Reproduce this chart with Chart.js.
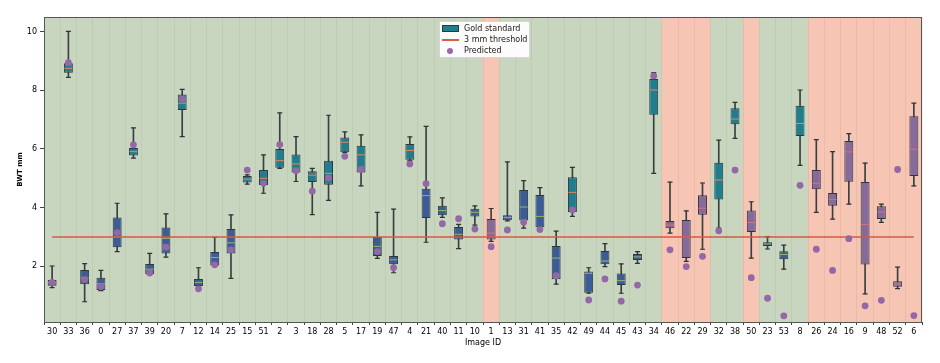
<!DOCTYPE html>
<html>
<head>
<meta charset="utf-8">
<script src="https://cdn.jsdelivr.net/npm/chart.js@4.4.1/dist/chart.umd.min.js"></script>
<style>
    html, body { margin: 0; padding: 0; background: #fff; }
    #wrap { position: relative; width: 940px; height: 363px; }
    .legend {
        position: absolute; left: 439px; top: 21px; width: 89px; height: 35px;
        background: rgba(255, 255, 255, 0.93); border: 1px solid #d6d6d6; border-radius: 2px;
        font: 8px "DejaVu Sans", sans-serif; color: #1a1a1a;
    }
    .legend .row { position: absolute; left: 0; height: 11px; line-height: 11px; white-space: nowrap; }
    .legend .txt { position: absolute; left: 24px; top: 0; }
    .legend .patch { position: absolute; left: 2px; top: 2px; width: 15px; height: 5px; background: #1f7d8d; border: 1px solid #2a3940; }
    .legend .line { position: absolute; left: 2px; top: 5px; width: 17px; height: 1.5px; background: #d9603f; }
    .legend .dot { position: absolute; left: 7px; top: 3px; width: 6px; height: 6px; border-radius: 50%; background: #9a68aa; }
</style>
</head>
<body>
<div id="wrap">
    <canvas id="chart" width="940" height="363"></canvas>
    <div class="legend">
        <div class="row" style="top:1px"><span class="patch"></span><span class="txt">Gold standard</span></div>
        <div class="row" style="top:12px"><span class="line"></span><span class="txt">3 mm threshold</span></div>
        <div class="row" style="top:23px"><span class="dot"></span><span class="txt">Predicted</span></div>
    </div>
</div>
<script>
// categories, in plotted order
const imageIds = ['30','33','36','0','27','37','39','20','7','12','14','25','15','51','2','3','18','28','5','17',
    '19','47','4','21','40','11','10','1','13','31','41','35','42','49','44','45','43','34','46','22',
    '29','32','38','50','23','53','8','26','24','16','9','48','52','6'];

// images whose column is shaded red
const flaggedIds = ['1','46','22','29','50','26','24','16','9','48','52','6'];

// gold standard box statistics (mm)
const whiskerLow = [1.27,8.44,0.79,1.17,2.50,5.69,1.72,2.31,6.42,1.28,2.00,1.59,4.80,4.49,5.34,4.89,3.76,4.25,5.88,4.74,
    2.27,1.78,5.60,2.82,3.67,2.60,3.40,2.85,3.55,3.30,3.30,1.39,3.70,1.08,1.99,1.08,2.10,5.17,3.13,2.17,
    2.58,3.30,6.36,2.28,2.59,1.90,5.44,3.84,3.61,4.12,1.06,3.50,1.24,4.74];
const q1 = [1.34,8.60,1.39,1.19,2.65,5.78,1.73,2.44,7.33,1.33,2.03,2.44,4.86,4.77,5.36,5.20,4.87,4.78,5.89,5.20,
    2.35,2.07,5.63,3.65,3.74,2.91,3.70,2.91,3.57,3.56,3.33,1.56,3.85,1.10,2.07,1.36,2.21,7.17,3.30,2.28,
    3.76,4.28,6.84,3.17,2.69,2.24,6.44,4.63,4.06,4.88,2.06,3.61,1.30,5.08];
const median = [1.45,8.75,1.60,1.40,3.00,5.91,1.90,2.95,7.56,1.45,2.30,2.80,4.97,5.00,5.60,5.49,5.11,5.17,6.23,5.80,
    2.68,2.22,5.95,4.41,3.90,3.09,3.84,3.13,3.66,4.02,3.70,2.28,4.52,1.76,2.18,1.51,2.32,8.01,3.41,3.01,
    3.98,4.94,7.02,3.49,2.76,2.40,6.87,4.83,4.28,5.90,3.42,3.85,1.40,5.99];
const q3 = [1.53,8.92,1.87,1.61,3.66,6.03,2.08,3.32,7.86,1.57,2.49,3.27,5.08,5.28,6.00,5.81,5.24,5.60,6.39,6.11,
    3.00,2.35,6.17,4.64,4.06,3.34,3.96,3.61,3.74,4.60,4.43,2.69,5.04,1.82,2.52,1.75,2.42,8.39,3.54,3.58,
    4.42,5.53,7.39,3.90,2.82,2.51,7.47,5.28,4.50,6.27,4.87,4.05,1.49,7.12];
const whiskerHigh = [2.01,10.01,2.09,1.86,4.15,6.72,2.44,3.79,8.03,1.95,2.99,3.75,5.12,5.80,7.23,6.42,5.34,7.15,6.58,6.48,
    3.84,3.95,6.41,6.77,4.33,3.43,4.06,3.97,5.56,4.92,4.68,3.20,5.37,1.95,2.77,2.08,2.50,8.60,4.87,3.89,
    4.84,6.30,7.59,4.20,3.01,2.72,8.01,6.32,5.91,6.52,5.52,4.12,1.97,7.56];

// predicted BWT (mm)
const predicted = [1.45,8.94,1.55,1.30,3.15,6.14,1.77,2.65,7.70,1.23,2.05,2.56,5.28,4.83,6.15,5.26,4.56,5.01,5.75,5.30,
    2.50,1.95,5.49,4.82,3.45,3.62,3.27,2.67,3.24,3.50,3.25,1.68,3.92,0.85,1.57,0.81,1.36,8.49,2.56,1.99,
    2.34,3.21,5.28,1.61,0.91,0.31,4.76,2.58,1.86,2.94,0.65,0.84,5.30,0.32];

const threshold = 3;
const yTicks = [2, 4, 6, 8, 10];
const yRange = [0.1, 10.5];

const GREEN = '#c9d6bf', RED = '#f6c5b3';
const TEAL = '#1f7d8d', BLUE = '#3c5c96', PURPLE = '#87699a';

const isFlagged = (i) => flaggedIds.includes(imageIds[i]);
const boxColor = (i) => isFlagged(i) ? PURPLE : (median[i] >= 4.45 ? TEAL : BLUE);
const medColor = (i) => isFlagged(i) ? '#d4737a' : (median[i] >= 4.45 ? '#e8875c' : '#9bb06c');

const frame = {
    id: 'frame',
    afterDraw(chart) {
        const { ctx, chartArea: a } = chart;
        ctx.save();
        ctx.strokeStyle = '#555';
        ctx.lineWidth = 1;
        ctx.strokeRect(Math.round(a.left) + 0.5, Math.round(a.top) + 0.5, Math.round(a.right - a.left) - 1, Math.round(a.bottom - a.top));
        ctx.restore();
    }
};

const font = { family: '"DejaVu Sans", sans-serif', size: 8 };

new Chart(document.getElementById('chart'), {
    type: 'bar',
    data: {
        labels: imageIds,
        datasets: [
            {
                label: 'band', data: imageIds.map(() => yRange.slice()),
                backgroundColor: imageIds.map((_, i) => isFlagged(i) ? RED : GREEN),
                barPercentage: 1, categoryPercentage: 1, grouped: false, order: 10, borderWidth: 0
            },
            {
                label: 'whisker', data: imageIds.map((_, i) => [whiskerLow[i], whiskerHigh[i]]),
                backgroundColor: '#3a3f3f', barThickness: 1, grouped: false, order: 8
            },
            {
                label: 'Gold standard', data: imageIds.map((_, i) => [q1[i], q3[i]]),
                backgroundColor: imageIds.map((_, i) => boxColor(i)),
                borderColor: '#2a3940', borderWidth: 1, borderSkipped: false,
                barPercentage: 0.55, categoryPercentage: 1, grouped: false, order: 7
            },
            {
                type: 'line', label: 'capLow', data: whiskerLow, showLine: false,
                pointStyle: 'line', pointRadius: 2.5, pointBorderWidth: 1.2, pointBorderColor: '#333', order: 6
            },
            {
                type: 'line', label: 'capHigh', data: whiskerHigh, showLine: false,
                pointStyle: 'line', pointRadius: 2.5, pointBorderWidth: 1.2, pointBorderColor: '#333', order: 6
            },
            {
                type: 'line', label: 'median', data: median, showLine: false,
                pointStyle: 'line', pointRadius: 4, pointBorderWidth: 1,
                pointBorderColor: imageIds.map((_, i) => medColor(i)), order: 5
            },
            {
                type: 'line', label: '3 mm threshold', data: imageIds.map(() => threshold),
                borderColor: '#d65b3c', borderWidth: 1.6, pointRadius: 0, order: 3
            },
            {
                type: 'line', label: 'Predicted', data: predicted, showLine: false,
                pointStyle: 'circle', pointRadius: 3.4, pointBorderWidth: 0,
                pointBackgroundColor: '#9467a6', order: 1
            }
        ]
    },
    options: {
        responsive: false,
        animation: false,
        layout: { padding: { top: 17, right: 18, left: 0, bottom: 0 } },
        plugins: { legend: { display: false }, tooltip: { enabled: false } },
        scales: {
            x: {
                offset: true,
                grid: { color: 'rgba(0,0,0,0.05)', offset: true, z: 1, tickLength: 3, tickColor: '#444' },
                border: { display: false },
                ticks: { font, color: '#000', maxRotation: 0, autoSkip: false, padding: 2 },
                title: { display: true, text: 'Image ID', font, color: '#000', padding: { top: 0, bottom: 15 } },
                afterFit: (s) => { s.height = 41; }
            },
            y: {
                min: yRange[0], max: yRange[1],
                afterBuildTicks: (s) => { s.ticks = yTicks.map(v => ({ value: v })); },
                grid: { drawOnChartArea: false, tickLength: 4, tickColor: '#444' },
                border: { display: false },
                ticks: { font, color: '#000', padding: 3 },
                title: { display: true, text: 'BWT mm', font: { ...font, weight: 'bold', size: 7 }, color: '#000', padding: { top: 16, bottom: 0 } },
                afterFit: (s) => { s.width = 44; }
            }
        }
    },
    plugins: [frame]
});
</script>
</body>
</html>
